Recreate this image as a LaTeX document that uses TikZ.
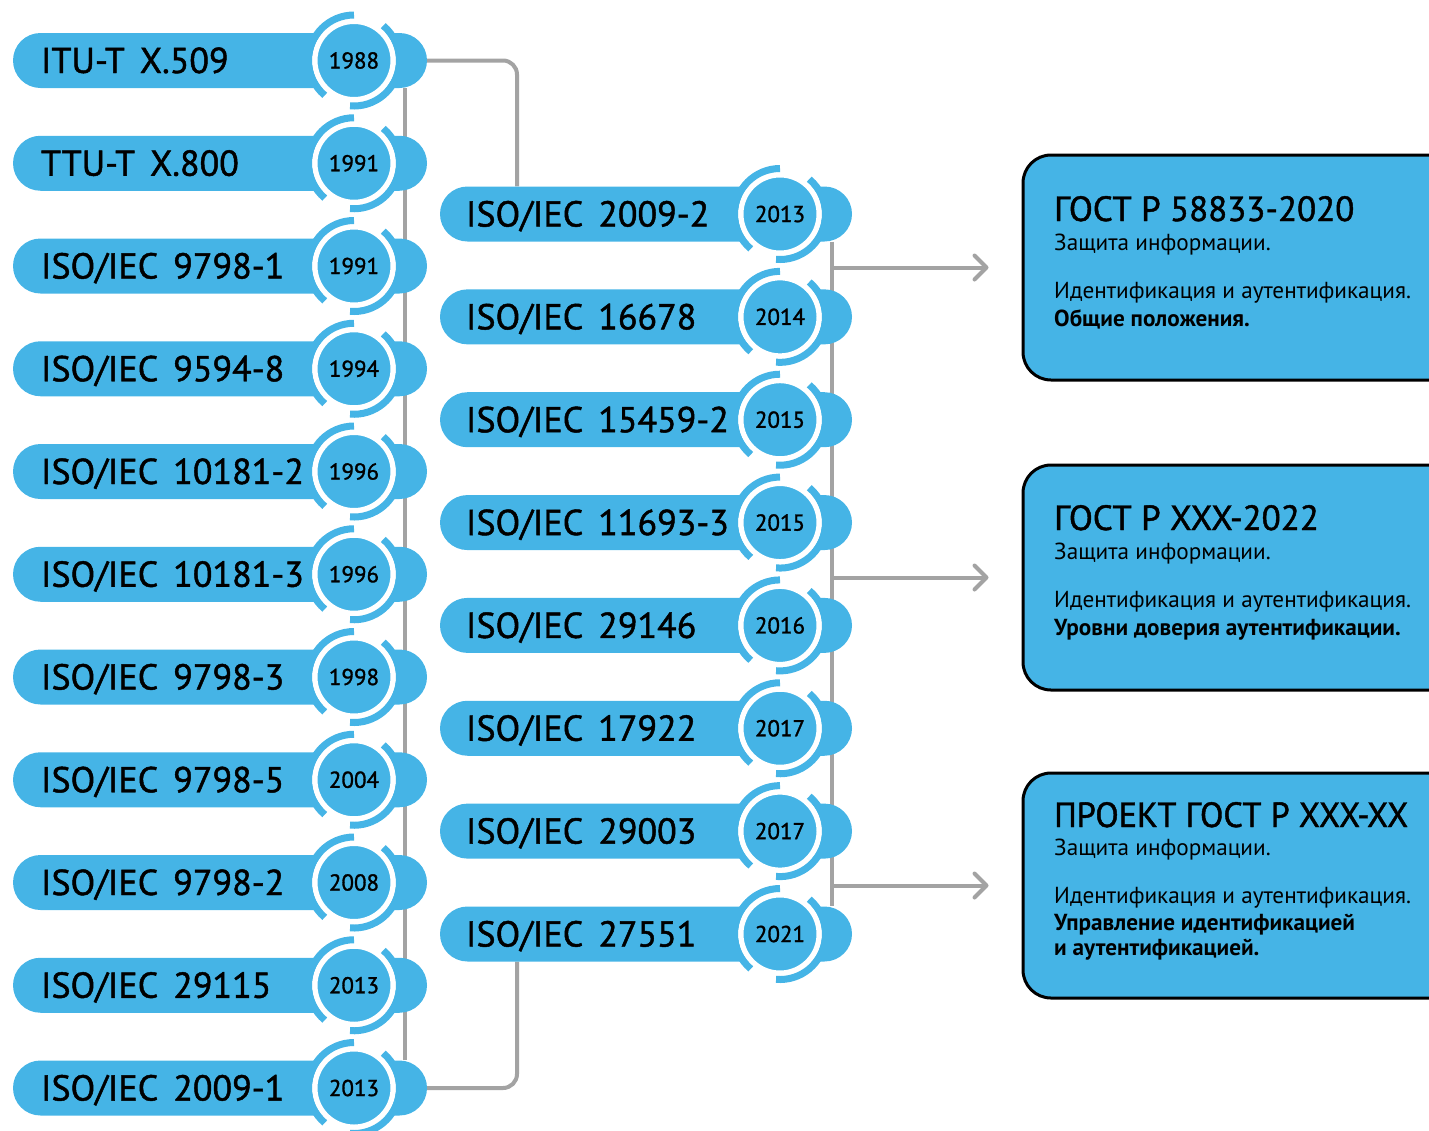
\documentclass[tikz,border=0pt]{standalone}
\usepackage{fontspec}
\usepackage{graphicx}
\setmainfont{PT Sans}
\newfontfamily\semib[FakeBold=1.3]{PT Sans}
\usetikzlibrary{arrows.meta, backgrounds}
\definecolor{skyb}{HTML}{45B4E6}
\definecolor{wiregray}{HTML}{A3A3A3}
\newcommand\gap{\hspace{15pt}}

\begin{document}
\begin{tikzpicture}[x=1pt, y=1pt,
  pill/.style={rectangle, rounded corners=27.5pt, fill=skyb, minimum height=55pt, text width=358pt, inner xsep=28pt, inner ysep=0pt, align=left, text height=25pt, text depth=0pt, font=\fontsize{36}{36}\semib},
  midpill/.style={pill, text width=360pt, inner xsep=26pt},
  year/.style={circle, fill=skyb, draw=white, line width=5.5pt, minimum size=78.5pt, inner sep=0pt, font=\fontsize{23}{23}\semib},
  ringarc/.style={skyb, line width=7pt},
  wire/.style={wiregray, line width=4pt},
  tip/.style={-{Straight Barb[length=12pt, width=24pt, round]}},
  gostbox/.style={rectangle, rounded corners=28pt, draw=black, line width=3pt, fill=skyb, minimum width=440pt, minimum height=225pt},
  gosttitle/.style={anchor=base west, inner sep=0pt, font=\fontsize{35}{35}\semib},
  gostline/.style={anchor=base west, inner sep=0pt, font=\fontsize{23.2}{23.2}\selectfont},
  gostbold/.style={gostline, font=\fontsize{23.2}{23.2}\selectfont\bfseries}]

\useasboundingbox (0,0) rectangle (1429,-1130);

\coordinate (lx) at (405,0);
\coordinate (cx) at (517,0);
\coordinate (rx) at (832,0);

% boxes on the right
\node[gostbox] (b1) at (1243,-267.5) {};
\node[gostbox] (b2) at (1243,-577.5) {};
\node[gostbox] (b3) at (1243,-885.5) {};

% left column
\node[pill] (l1) at (220,-60.5) {ITU-T\gap X.509};
\node[pill] (l2) at (220,-163.25) {TTU-T\gap X.800};
\node[pill] (l3) at (220,-266) {ISO/IEC\gap 9798-1};
\node[pill] (l4) at (220,-368.75) {ISO/IEC\gap 9594-8};
\node[pill] (l5) at (220,-471.5) {ISO/IEC\gap 10181-2};
\node[pill] (l6) at (220,-574.25) {ISO/IEC\gap 10181-3};
\node[pill] (l7) at (220,-677) {ISO/IEC\gap 9798-3};
\node[pill] (l8) at (220,-779.75) {ISO/IEC\gap 9798-5};
\node[pill] (l9) at (220,-882.5) {ISO/IEC\gap 9798-2};
\node[pill] (l10) at (220,-985.25) {ISO/IEC\gap 29115};
\node[pill] (l11) at (220,-1088) {ISO/IEC\gap 2009-1};

% middle column
\node[midpill] (m1) at (646,-214) {ISO/IEC\gap 2009-2};
\node[midpill] (m2) at (646,-316.85) {ISO/IEC\gap 16678};
\node[midpill] (m3) at (646,-419.7) {ISO/IEC\gap 15459-2};
\node[midpill] (m4) at (646,-522.55) {ISO/IEC\gap 11693-3};
\node[midpill] (m5) at (646,-625.4) {ISO/IEC\gap 29146};
\node[midpill] (m6) at (646,-728.25) {ISO/IEC\gap 17922};
\node[midpill] (m7) at (646,-831.1) {ISO/IEC\gap 29003};
\node[midpill] (m8) at (646,-934) {ISO/IEC\gap 27551};

% grey connectors, behind the pills
\begin{scope}[on background layer]
\draw[wire] (l1.south -| lx) -- (l11.north -| lx);
\draw[wire, rounded corners=14pt] (l1.east) -| (cx |- m1.north);
\draw[wire, rounded corners=14pt] (l11.east) -| (cx |- m8.south);
\draw[wire] (m1.south -| rx) -- (m8.north -| rx);
\end{scope}
\draw[wire, tip] (rx |- b1) -- ([xshift=-33pt]b1.west);
\draw[wire, tip] (rx |- b2) -- ([xshift=-33pt]b2.west);
\draw[wire, tip] (rx |- b3) -- ([xshift=-33pt]b3.west);

% years
\node[year] (y1) at (354,-60.5) {1988};
\node[year] (y2) at (354,-163.25) {1991};
\node[year] (y3) at (354,-266) {1991};
\node[year] (y4) at (354,-368.75) {1994};
\node[year] (y5) at (354,-471.5) {1996};
\node[year] (y6) at (354,-574.25) {1996};
\node[year] (y7) at (354,-677) {1998};
\node[year] (y8) at (354,-779.75) {2004};
\node[year] (y9) at (354,-882.5) {2008};
\node[year] (y10) at (354,-985.25) {2013};
\node[year] (y11) at (354,-1088) {2013};
\node[year] (z1) at (780,-214) {2013};
\node[year] (z2) at (780,-316.85) {2014};
\node[year] (z3) at (780,-419.7) {2015};
\node[year] (z4) at (780,-522.55) {2015};
\node[year] (z5) at (780,-625.4) {2016};
\node[year] (z6) at (780,-728.25) {2017};
\node[year] (z7) at (780,-831.1) {2017};
\node[year] (z8) at (780,-934) {2021};

\foreach \n in {y1,y2,y3,y4,y5,y6,y7,y8,y9,y10,y11,z1,z2,z3,z4,z5,z6,z7,z8} {
  \draw[ringarc] (\n.center) ++(90:45.5) arc[start angle=90, end angle=230, radius=45.5];
  \draw[ringarc] (\n.center) ++(-95:45.5) arc[start angle=-95, end angle=50, radius=45.5];
}

% box texts
\node[gosttitle] (t1) at (1054,-221) {ГОСТ Р 58833-2020};
\node[gostline] (s1) at (1054,-250) {Защита информации.};
\node[gostline] (i1) at (1054,-298) {Идентификация и аутентификация.};
\node[gostbold] (d1) at (1054,-326) {Общие положения.};

\node[gosttitle] (t2) at (1054,-530) {ГОСТ Р XXX-2022};
\node[gostline] (s2) at (1054,-559) {Защита информации.};
\node[gostline] (i2) at (1054,-607) {Идентификация и аутентификация.};
\node[gostbold] (d2) at (1054,-635) {Уровни доверия аутентификации.};

\node[gosttitle] (t3) at (1054,-827) {\resizebox{354pt}{\height}{ПРОЕКТ ГОСТ Р XXX-XX}};
\node[gostline] (s3) at (1054,-855) {Защита информации.};
\node[gostline] (i3) at (1054,-903) {Идентификация и аутентификация.};
\node[gostbold] (d3) at (1054,-930) {Управление идентификацией};
\node[gostbold] (e3) at (1054,-955) {и аутентификацией.};
\end{tikzpicture}
\end{document}
